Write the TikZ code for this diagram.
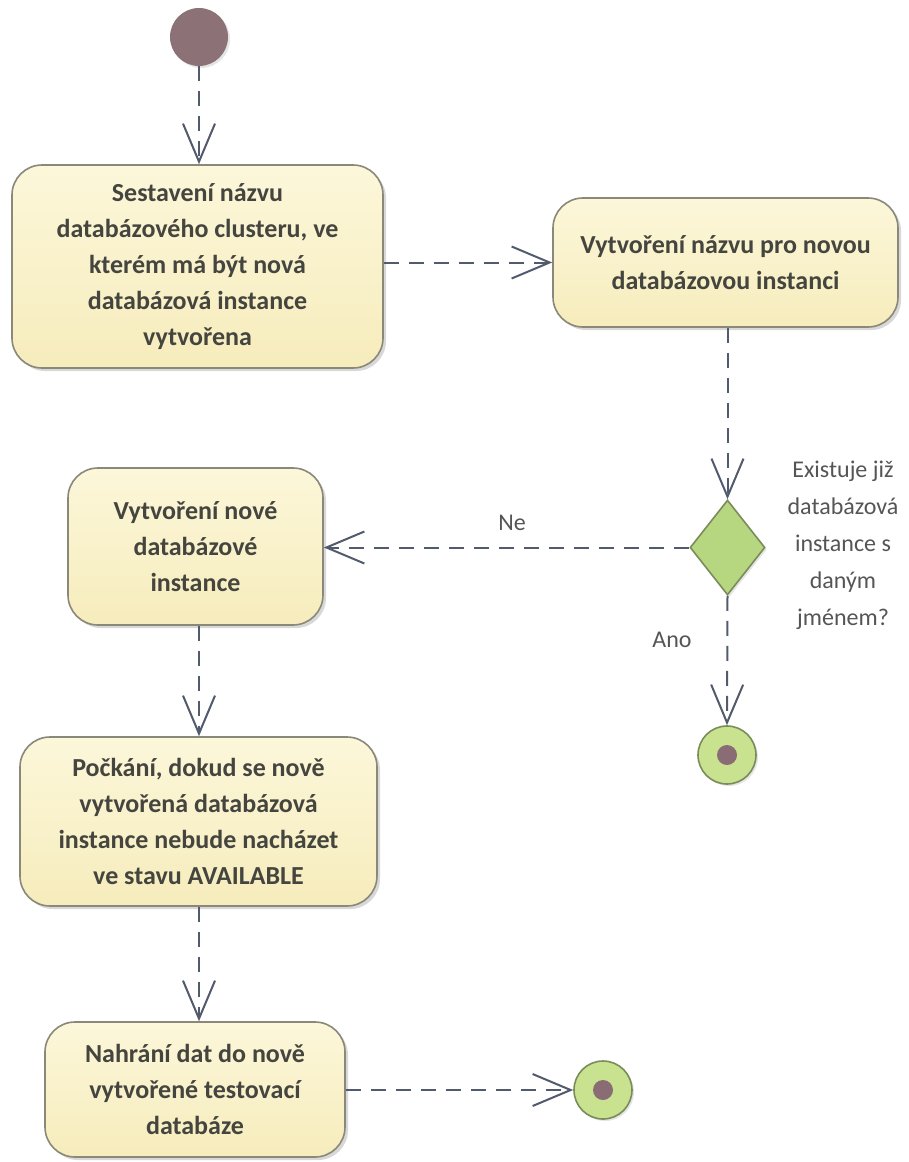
\documentclass[tikz,border=0pt]{standalone}
\usepackage{fontspec}
\setmainfont{Carlito}
\usetikzlibrary{arrows.meta,shapes.geometric,shadows}

\definecolor{edgecol}{HTML}{525A6E}
\definecolor{boxtop}{HTML}{FCF7DA}
\definecolor{boxbot}{HTML}{F6ECBC}
\definecolor{boxline}{HTML}{8A8878}
\definecolor{txt}{HTML}{45453F}
\definecolor{lbl}{HTML}{555555}
\definecolor{decfill}{HTML}{B7D680}
\definecolor{decline}{HTML}{7A8C5A}
\definecolor{endfill}{HTML}{C9E290}
\definecolor{dotcol}{HTML}{8A6C74}
\definecolor{startcol}{HTML}{8C7276}

\tikzset{
  action/.style={rectangle, rounded corners=30pt, draw=boxline, line width=1.6pt,
    top color=boxtop, bottom color=boxbot, inner sep=0pt,
    drop shadow={shadow xshift=3pt, shadow yshift=-3pt, fill=black!25, opacity=0.6},
    font=\fontsize{26}{36}\selectfont\bfseries, text=txt, align=center},
  flow/.style={draw=edgecol, line width=2pt, dash pattern=on 15pt off 10pt,
    -{Straight Barb[length=38pt,width=32pt,line width=2pt]}},
  guard/.style={font=\fontsize{24}{37}\selectfont, text=lbl, align=center},
  finalnode/.style={circle, draw=decline, line width=1.6pt, fill=endfill,
    minimum size=58pt, inner sep=0pt,
    drop shadow={shadow xshift=2pt, shadow yshift=-2pt, fill=black!20, opacity=0.5}},
  dotnode/.style={circle, fill=dotcol, minimum size=20pt, inner sep=0pt},
}

\begin{document}
\begin{tikzpicture}[x=1pt,y=-1pt]
  \useasboundingbox[fill=white] (0,0) rectangle (909,1162);

  % start node
  \node[circle, fill=startcol, minimum size=58pt, inner sep=0pt,
        drop shadow={shadow xshift=2pt, shadow yshift=-2pt, fill=black!20, opacity=0.5}]
        (start) at (199,37) {};

  % actions
  \node[action, minimum width=371pt, minimum height=203pt] (b1) at (197.5,266.5)
    {Sestavení názvu\\databázového clusteru, ve\\kterém má být nová\\databázová instance\\vytvořena};
  \node[action, minimum width=345pt, minimum height=129pt] (b2) at (725.5,262.5)
    {Vytvoření názvu pro novou\\databázovou instanci};
  \node[action, minimum width=255pt, minimum height=157pt] (b3) at (195.5,546.5)
    {Vytvoření nové\\databázové\\instance};
  \node[action, minimum width=357pt, minimum height=169pt] (b4) at (198.5,821.5)
    {Počkání, dokud se nově\\vytvořená databázová\\instance nebude nacházet\\ve stavu AVAILABLE};
  \node[action, minimum width=300pt, minimum height=135pt] (b5) at (195,1089.5)
    {Nahrání dat do nově\\vytvořené testovací\\databáze};

  % decision
  \node[diamond, draw=decline, line width=1.6pt, fill=decfill, inner sep=0pt,
        minimum width=75pt, minimum height=95pt,
        drop shadow={shadow xshift=2pt, shadow yshift=-2pt, fill=black!20, opacity=0.5}]
        (dec) at (727.5,547.5) {};
  \node[guard] (q) at (843,545)
    {Existuje již\\databázová\\instance s\\daným\\jménem?};

  % final nodes
  \node[finalnode] (end1) at (727,755) {};
  \node[dotnode] (dot1) at (end1) {};
  \node[finalnode] (end2) at (603,1090) {};
  \node[dotnode] (dot2) at (end2) {};

  % control flows
  \draw[flow] (start) -- (start |- b1.north);
  \draw[flow] (b1.east |- b2.west) -- (b2.west);
  \draw[flow] (b2.south -| dec.north) -- (dec.north);
  \draw[flow] (dec.west) -- (dec.west -| b3.east);
  \draw[flow] (dec.south) -- (end1.north);
  \draw[flow] (b3.south -| start) -- (start |- b4.north);
  \draw[flow] (b4.south -| start) -- (start |- b5.north);
  \draw[flow] (b5.east |- end2.west) -- (end2.west);

  % guard labels
  \node[guard] (ne) at (512,523) {Ne};
  \node[guard] (ano) at (672,640) {Ano};
\end{tikzpicture}
\end{document}
